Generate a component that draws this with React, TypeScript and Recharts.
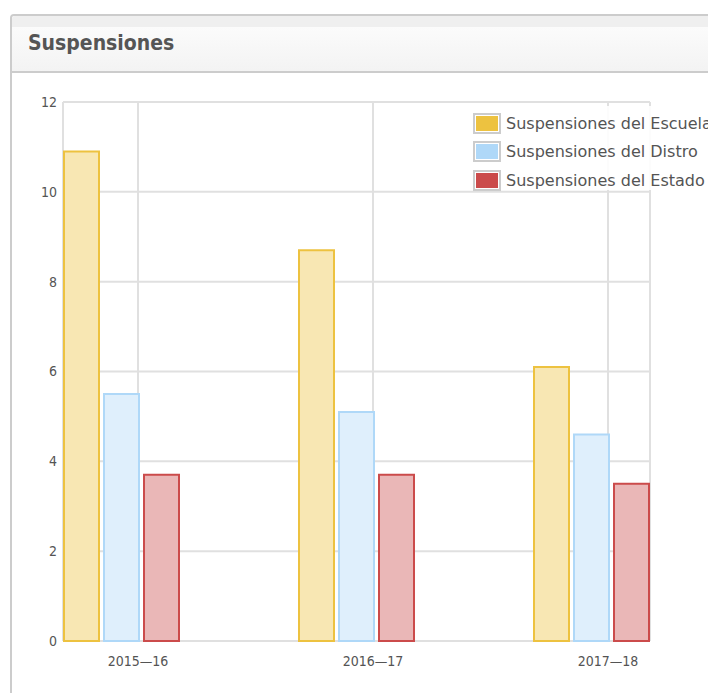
import React from 'react';
import { BarChart, Bar, XAxis, YAxis, CartesianGrid } from 'recharts';

const categories = ['2015—16', '2016—17', '2017—18'];
const escuela = [10.9, 8.7, 6.1];
const distrito = [5.5, 5.1, 4.6];
const estado = [3.7, 3.7, 3.5];
const yTicks = [0, 2, 4, 6, 8, 10, 12];

const series = [
  { key: 'escuela', name: 'Suspensiones del Escuela', color: '#edc240', fill: '#f8e7b3' },
  { key: 'distrito', name: 'Suspensiones del Distro', color: '#afd8f8', fill: '#dfeffc' },
  { key: 'estado', name: 'Suspensiones del Estado', color: '#cb4b4b', fill: '#eab7b7' },
];

const data = categories.map((c, i) => ({
  category: c,
  escuela: escuela[i],
  distrito: distrito[i],
  estado: estado[i],
}));

const textColor = '#545454';

export default function App() {
  return (
    <div style={{ position: 'absolute', left: 0, top: 0, width: 708, height: 693, overflow: 'hidden', background: '#fff' }}>
      <div
        style={{
          position: 'absolute',
          left: 10,
          top: 14,
          width: 740,
          height: 720,
          border: '2px solid #cccccc',
          borderRadius: 4,
          boxSizing: 'border-box',
        }}
      >
        <div
          style={{
            height: 57,
            boxSizing: 'border-box',
            borderBottom: '2px solid #cccccc',
            background: 'linear-gradient(#efefef 0px, #efefef 11px, #fbfbfb 11px, #f3f3f3 100%)',
            borderTopLeftRadius: 3,
          }}
        >
          <div
            style={{
              position: 'absolute',
              left: 16,
              top: 14,
              fontFamily: '"DejaVu Sans Condensed", "DejaVu Sans", sans-serif',
              fontWeight: 'bold',
              fontSize: 21,
              color: '#555555',
              lineHeight: '26px',
            }}
          >
            Suspensiones
          </div>
        </div>
      </div>
      <div style={{ position: 'absolute', left: 0, top: 0 }}>
        <BarChart
          width={708}
          height={693}
          data={data}
          margin={{ top: 102, right: 58, bottom: 22, left: 13 }}
          barGap={5}
          barSize={35}
        >
          <CartesianGrid xAxisId="labels" stroke="#e0e0e0" strokeWidth={2} />
          <XAxis xAxisId="bars" dataKey="category" hide height={0} padding={{ left: -59, right: -59 }} />
          <XAxis
            xAxisId="labels"
            dataKey="category"
            padding={{ left: -42.5, right: -75.5 }}
            axisLine={false}
            tickLine={false}
            tickSize={0}
            tickMargin={15}
            height={30}
            interval={0}
            tick={{ fill: textColor, fontSize: 14, fontFamily: '"DejaVu Sans Condensed", "DejaVu Sans", sans-serif' }}
          />
          <YAxis
            width={50}
            domain={[0, 12]}
            ticks={yTicks}
            axisLine={false}
            tickLine={false}
            tickSize={0}
            tickMargin={6}
            interval={0}
            tick={{ fill: textColor, fontSize: 14, fontFamily: '"DejaVu Sans Condensed", "DejaVu Sans", sans-serif' }}
          />
          {series.map((s) => (
            <Bar
              key={s.key}
              xAxisId="bars"
              dataKey={s.key}
              name={s.name}
              fill={s.fill}
              stroke={s.color}
              strokeWidth={2}
              isAnimationActive={false}
            />
          ))}
        </BarChart>
      </div>
      <div
        style={{
          position: 'absolute',
          left: 470,
          top: 106,
          width: 260,
          height: 84,
          background: 'rgba(255,255,255,0.9)',
        }}
      />
      <div style={{ position: 'absolute', left: 473, top: 109 }}>
        {series.map((s) => (
          <div key={s.key} style={{ display: 'flex', alignItems: 'center', height: 28.5, whiteSpace: 'nowrap' }}>
            <div style={{ border: '2px solid #cccccc', padding: 1, boxSizing: 'content-box' }}>
              <div style={{ width: 22, height: 15, background: s.color }} />
            </div>
            <span
              style={{
                marginLeft: 5,
                fontFamily: '"DejaVu Sans", sans-serif',
                fontSize: 16,
                color: textColor,
              }}
            >
              {s.name}
            </span>
          </div>
        ))}
      </div>
    </div>
  );
}
